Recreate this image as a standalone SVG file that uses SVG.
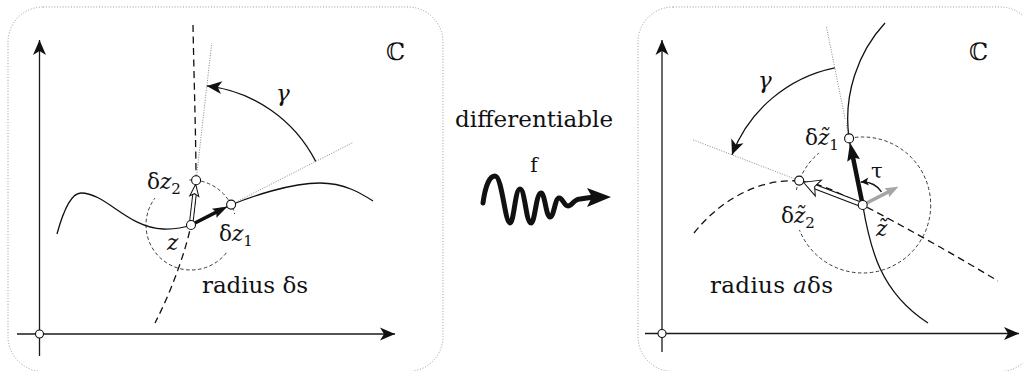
<svg xmlns="http://www.w3.org/2000/svg" width="1023" height="371" viewBox="0 0 1023 371">
<style>
.border{fill:none;stroke:#9a9a9a;stroke-width:1;stroke-dasharray:1 1.8}
.axis{fill:none;stroke:#1a1a1a;stroke-width:1.3}
.curve{fill:none;stroke:#111;stroke-width:1.3}
.dcurve{fill:none;stroke:#111;stroke-width:1.3;stroke-dasharray:7 4.5}
.circ{fill:none;stroke:#222;stroke-width:0.9;stroke-dasharray:3.5 2.5}
.ray{fill:none;stroke:#7a7a7a;stroke-width:0.9;stroke-dasharray:1 1.5}
.pt{fill:#fff;stroke:#111;stroke-width:1.1}
.bg{fill:#fff}
.blk{fill:none;stroke:#111}
.wht{fill:none;stroke:#fff}
.gry{fill:none;stroke:#a5a5a5;stroke-width:3.5}
text{font-family:"DejaVu Serif",serif;fill:#111}
.lab{font-size:21.5px}
.it{font-style:italic}
.sub{font-size:15px}
.big{font-size:23px}
</style>
<defs>
<marker id="ah" markerUnits="userSpaceOnUse" markerWidth="1" markerHeight="1" refX="0" refY="0" orient="auto" style="overflow:visible"><path d="M0,0 L-15,-6.5 L-11,0 L-15,6.5 Z" fill="#111"/></marker>
<marker id="vL" markerUnits="userSpaceOnUse" markerWidth="1" markerHeight="1" refX="0" refY="0" orient="auto" style="overflow:visible"><path d="M6,0 L-9,-5 L-6.5,0 L-9,5 Z" fill="#111"/></marker>
<marker id="vR" markerUnits="userSpaceOnUse" markerWidth="1" markerHeight="1" refX="0" refY="0" orient="auto" style="overflow:visible"><path d="M7,0 L-11,-6.5 L-8,0 L-11,6.5 Z" fill="#111"/></marker>
<marker id="hL" markerUnits="userSpaceOnUse" markerWidth="1" markerHeight="1" refX="0" refY="0" orient="auto" style="overflow:visible"><path d="M7,0 L-5,-4.5 L-2.5,0 L-5,4.5 Z" fill="#fff" stroke="#111" stroke-width="1"/></marker>
<marker id="hR" markerUnits="userSpaceOnUse" markerWidth="1" markerHeight="1" refX="0" refY="0" orient="auto" style="overflow:visible"><path d="M9,0 L-7,-8.5 L-3,0 L-7,8.5 Z" fill="#fff" stroke="#111" stroke-width="1"/></marker>
<marker id="gR" markerUnits="userSpaceOnUse" markerWidth="1" markerHeight="1" refX="0" refY="0" orient="auto" style="overflow:visible"><path d="M5,0 L-8,-5 L-6,0 L-8,5 Z" fill="#a5a5a5"/></marker>
<marker id="sm" markerUnits="userSpaceOnUse" markerWidth="1" markerHeight="1" refX="0" refY="0" orient="auto" style="overflow:visible"><path d="M0,0 L-8,-4 L-6,0 L-8,4 Z" fill="#111"/></marker>
</defs>

<g id="left-plane">
  <rect class="border" x="8" y="7" width="435" height="364.5" rx="35"/>
  <g id="left-axes">
    <line class="axis" x1="39.5" y1="356" x2="39.5" y2="40" marker-end="url(#ah)"/>
    <line class="axis" x1="17" y1="334" x2="395" y2="334" marker-end="url(#ah)"/>
  </g>
  <circle class="circ" cx="191" cy="225" r="45"/>
  <path class="curve" d="M57,234 C63,212 71,193 81,193 C106,193 128,228 163,229 C175,229.5 183,228 191,225 C205,220 218,210 231,205 C250,197 290,183 320,183 C345,183 362,194 373,201"/>
  <path class="dcurve" d="M193,25 C194,80 196,140 196,180 C196,200 194,213 191,225 C186,250 172,290 155,323"/>
  <line class="ray" x1="231.1" y1="204.6" x2="352.3" y2="142.8"/>
  <line class="ray" x1="196.1" y1="180.3" x2="211.7" y2="43.2"/>
  <rect class="bg" x="146" y="168" width="43" height="30"/>
  <rect class="bg" x="216" y="214" width="40" height="37"/>
  <g id="left-connectors">
    <path class="curve" d="M315.7,161.4 A140,140 0 0,0 206.8,85.9" marker-end="url(#ah)"/>
    <path class="blk" stroke-width="3.5" d="M191,225 L222.2,209.1" marker-end="url(#vL)"/>
    <path class="blk" stroke-width="4.5" d="M191,225 L194.85,191.2"/>
    <path class="wht" stroke-width="2.5" d="M191,225 L194.85,191.2" marker-end="url(#hL)"/>
  </g>
  <g id="left-points">
    <circle class="pt" cx="39.5" cy="334" r="4"/>
    <circle class="pt" cx="191" cy="225" r="4.5"/>
    <circle class="pt" cx="231.1" cy="204.6" r="4.5"/>
    <circle class="pt" cx="196.1" cy="180.3" r="4.5"/>
  </g>
  <g id="left-labels">
    <text x="386" y="60" font-size="24">ℂ</text>
    <text class="it" x="276" y="101" font-size="23">γ</text>
    <text class="lab" x="147" y="189">δ<tspan class="it">z</tspan><tspan class="sub" dy="5">2</tspan></text>
    <text class="lab it" x="167" y="250">z</text>
    <text class="lab" x="219" y="241">δ<tspan class="it">z</tspan><tspan class="sub" dy="5">1</tspan></text>
    <text class="big" x="202" y="293" textLength="106" lengthAdjust="spacing">radius δs</text>
  </g>
</g>

<g id="mapping">
  <text class="big" x="534" y="127" text-anchor="middle" textLength="158" lengthAdjust="spacing">differentiable</text>
  <text x="534" y="172" font-size="20" text-anchor="middle">f</text>
  <path d="M483,203 C485,188 489,176 495,176 C502,176 505,223 510,223 C514,223 515,189 520,189 C525,189 526,223 531,223 C535,223 536,193 541,193 C545,193 546,217 550,217 C554,217 555,198 559,198 C563,198 564,206 568,206 C572,206 574,199 580,199 L594,197" fill="none" stroke="#111" stroke-width="5" stroke-linecap="round" stroke-linejoin="round"/>
  <path d="M611,197 L587,188 L592,197 L587,207 Z" fill="#111"/>
</g>

<g id="right-plane">
  <rect class="border" x="638" y="7" width="397" height="364.5" rx="35"/>
  <g id="right-axes">
    <line class="axis" x1="662" y1="352" x2="662" y2="40" marker-end="url(#ah)"/>
    <line class="axis" x1="645" y1="333.5" x2="1019" y2="333.5" marker-end="url(#ah)"/>
  </g>
  <circle class="circ" cx="862.7" cy="205" r="68"/>
  <path class="curve" d="M885,23 C858,52 843,95 849,138 C853,165 859,185 862.7,205 C870,248 880,292 928,323"/>
  <path class="dcurve" d="M694,233 C720,200 760,178 799,181 C822,183 845,196 862.7,205 C905,227 955,255 998,281"/>
  <line class="ray" x1="849.1" y1="138.4" x2="826.4" y2="26.7"/>
  <line class="ray" x1="799.2" y1="180.6" x2="691.9" y2="139.4"/>
  <rect class="bg" x="804" y="120" width="42" height="33"/>
  <rect class="bg" x="780" y="190" width="42" height="40"/>
  <g id="right-connectors">
    <path class="curve" d="M834.8,67.8 A140,140 0 0,0 732,154.8" marker-end="url(#ah)"/>
    <path class="gry" d="M862.7,205 L893.9,189.1" marker-end="url(#gR)"/>
    <path class="blk" stroke-width="5.5" d="M862.7,205 L811.8,185.5"/>
    <path class="wht" stroke-width="3.3" d="M862.7,205 L811.8,185.5" marker-end="url(#hR)"/>
    <path class="blk" stroke-width="4.5" d="M862.7,205 L851.4,149.6" marker-end="url(#vR)"/>
    <path class="curve" d="M881.5,191.8 A23,23 0 0,0 860.7,182.1" marker-end="url(#sm)"/>
  </g>
  <g id="right-points">
    <circle class="pt" cx="662" cy="333.5" r="4"/>
    <circle class="pt" cx="862.7" cy="205" r="4.5"/>
    <circle class="pt" cx="849.1" cy="138.4" r="4.5"/>
    <circle class="pt" cx="799.2" cy="180.6" r="4.5"/>
  </g>
  <g id="right-labels">
    <text x="969" y="60" font-size="24">ℂ</text>
    <text class="it" x="758" y="88" font-size="23">γ</text>
    <text class="lab" x="805" y="145">δ<tspan class="it">z̃</tspan><tspan class="sub" dy="5">1</tspan></text>
    <text class="lab" x="781" y="223">δ<tspan class="it">z̃</tspan><tspan class="sub" dy="5">2</tspan></text>
    <text class="lab it" x="876" y="236">z̃</text>
    <text x="871" y="178" font-size="21">τ</text>
    <text class="big" x="710" y="293" textLength="123" lengthAdjust="spacing">radius <tspan class="it">a</tspan>δs</text>
  </g>
</g>
</svg>
